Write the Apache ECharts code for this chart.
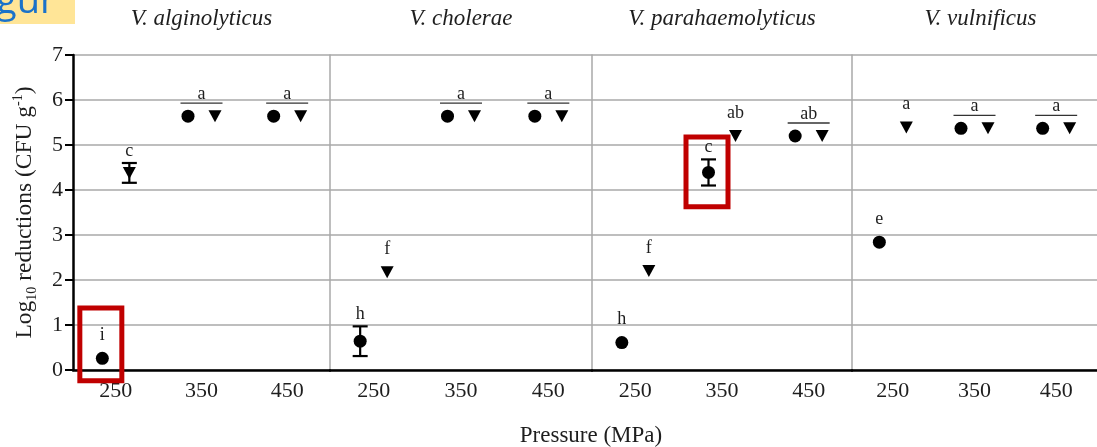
<!DOCTYPE html>
<html>
<head>
<meta charset="utf-8">
<script src="https://cdn.jsdelivr.net/npm/echarts@6/dist/echarts.min.js"></script>
<style>
  html, body { margin: 0; padding: 0; background: #fff; }
  #chart { width: 1097px; height: 447px; }
</style>
</head>
<body>
<div id="chart"></div>
<script>
// data
const species = ["V. alginolyticus", "V. cholerae", "V. parahaemolyticus", "V. vulnificus"];
const pressures = ["250", "350", "450"];
const circleMean = [[0.26, 5.64, 5.64], [0.64, 5.64, 5.64], [0.61, 4.39, 5.2], [2.84, 5.37, 5.37]];
const circleSd = [[0, 0, 0], [0.33, 0, 0], [0, 0.29, 0], [0, 0, 0]];
const triMean = [[4.38, 5.64, 5.64], [2.17, 5.64, 5.64], [2.2, 5.2, 5.2], [5.39, 5.37, 5.37]];
const triSd = [[0.22, 0, 0], [0, 0, 0], [0, 0, 0], [0, 0, 0]];
const circleLetter = [["i", "a", "a"], ["h", "a", "a"], ["h", "c", "ab"], ["e", "a", "a"]];
const triLetter = [["c", "a", "a"], ["f", "a", "a"], ["f", "ab", "ab"], ["a", "a", "a"]];
// 1 = one letter written over both markers with a bar
const sharedLetter = [[0, 1, 1], [0, 1, 1], [0, 0, 1], [0, 1, 1]];
// circles framed in red: [panel, pressure index, low, high]
const boxed = [[0, 0, -0.24, 1.38], [2, 1, 3.63, 5.18]];

const panelLeft = [73, 330, 592, 852];
const panelWidth = [257, 262, 260, 257];
const OFF = 13.5;
const serif = '"Liberation Serif", "DejaVu Serif", serif';
const ink = "#1e1e1e";
const gridGray = "#a8a8a8";
const triPath = "path://M0,0L12,0L6,11Z";

const chart = echarts.init(document.getElementById("chart"));

const grids = [], xAxes = [], yAxes = [], series = [];

species.forEach((name, p) => {
  grids.push({ left: panelLeft[p], width: panelWidth[p], top: 55, height: 315 });
  xAxes.push({
    type: "category",
    gridIndex: p,
    data: pressures,
    boundaryGap: true,
    axisLine: { lineStyle: { color: "#000", width: 2.5 } },
    axisTick: { alignWithLabel: true, length: 7, lineStyle: { color: "#000", width: 2 } },
    axisLabel: { fontFamily: serif, fontSize: 22, color: ink, margin: 10 },
    splitLine: { show: false },
  });
  const y = {
    type: "value",
    gridIndex: p,
    min: 0,
    max: 7,
    interval: 1,
    splitLine: { lineStyle: { color: gridGray, width: 1.5 } },
  };
  if (p === 0) {
    Object.assign(y, {
      axisLine: { show: true, lineStyle: { color: "#000", width: 2.5 } },
      axisTick: { show: true, length: 8, lineStyle: { color: "#000", width: 2 } },
      axisLabel: { fontFamily: serif, fontSize: 22, color: ink, margin: 10 },
      name: "Log{sub|10} reductions (CFU g{sup|-1})",
      nameLocation: "middle",
      nameRotate: 90,
      nameGap: 34,
      nameTextStyle: {
        fontFamily: serif, fontSize: 23.5, color: ink, lineHeight: 28,
        rich: {
          sub: { fontFamily: serif, fontSize: 14, color: ink, lineHeight: 14, verticalAlign: "bottom" },
          sup: { fontFamily: serif, fontSize: 14, color: ink, lineHeight: 14, verticalAlign: "top" },
        },
      },
    });
  } else {
    Object.assign(y, {
      axisLine: { show: true, lineStyle: { color: gridGray, width: 1.5 } },
      axisTick: { show: false },
      axisLabel: { show: false },
    });
  }
  yAxes.push(y);

  series.push({
    type: "scatter", xAxisIndex: p, yAxisIndex: p, z: 5,
    data: circleMean[p], symbol: "circle", symbolSize: 13, symbolOffset: [-OFF, 0],
    itemStyle: { color: "#000", opacity: 1 }, silent: true,
  });
  series.push({
    type: "scatter", xAxisIndex: p, yAxisIndex: p, z: 5,
    data: triMean[p], symbol: triPath, symbolSize: [13, 12], symbolOffset: [OFF, 0],
    itemStyle: { color: "#000", opacity: 1 }, silent: true,
  });

  // error bars
  const bars = [];
  pressures.forEach((_, j) => {
    if (circleSd[p][j] > 0) bars.push([j, circleMean[p][j], circleSd[p][j], -1]);
    if (triSd[p][j] > 0) bars.push([j, triMean[p][j], triSd[p][j], 1]);
  });
  series.push({
    type: "custom", xAxisIndex: p, yAxisIndex: p, z: 4, silent: true,
    data: bars,
    renderItem: function (params, api) {
      const j = api.value(0), m = api.value(1), sd = api.value(2), side = api.value(3);
      const top = api.coord([j, m + sd]);
      const bot = api.coord([j, m - sd]);
      const x = top[0] + side * OFF;
      const st = { stroke: "#000", lineWidth: 2.2 };
      return {
        type: "group",
        children: [
          { type: "line", shape: { x1: x, y1: top[1], x2: x, y2: bot[1] }, style: st },
          { type: "line", shape: { x1: x - 7.5, y1: top[1], x2: x + 7.5, y2: top[1] }, style: st },
          { type: "line", shape: { x1: x - 7.5, y1: bot[1], x2: x + 7.5, y2: bot[1] }, style: st },
        ],
      };
    },
  });

  // significance letters
  const labels = [];
  pressures.forEach((_, j) => {
    if (sharedLetter[p][j]) {
      labels.push({ cat: j, value: Math.max(circleMean[p][j], triMean[p][j]), text: circleLetter[p][j], dx: 0, gap: 22, shared: true });
    } else {
      const cs = circleSd[p][j], ts = triSd[p][j];
      labels.push({ cat: j, value: circleMean[p][j] + cs, text: circleLetter[p][j], dx: -OFF, gap: cs > 0 ? 12 : 23 });
      labels.push({ cat: j, value: triMean[p][j] + ts, text: triLetter[p][j], dx: OFF, gap: ts > 0 ? 12 : 23 });
    }
  });
  series.push({
    type: "custom", xAxisIndex: p, yAxisIndex: p, z: 6, silent: true,
    data: labels.map((l) => [l.cat, l.value]),
    renderItem: function (params, api) {
      const l = labels[params.dataIndex];
      const pt = api.coord([api.value(0), api.value(1)]);
      const x = pt[0] + l.dx;
      const children = [{
        type: "text",
        style: {
          text: l.text, x: x, y: pt[1] - l.gap,
          font: "18px " + serif, fill: ink,
          align: "center", verticalAlign: "middle",
          textAlign: "center", textVerticalAlign: "middle",
        },
      }];
      if (l.shared) {
        children.push({
          type: "line",
          shape: { x1: x - 21, y1: pt[1] - 13, x2: x + 21, y2: pt[1] - 13 },
          style: { stroke: "#333", lineWidth: 1.3 },
        });
      }
      return { type: "group", children: children };
    },
  });

  // red frames
  const frames = boxed.filter((b) => b[0] === p).map((b) => [b[1], b[2], b[3]]);
  if (frames.length) {
    series.push({
      type: "custom", xAxisIndex: p, yAxisIndex: p, z: 10, silent: true, clip: false,
      data: frames,
      renderItem: function (params, api) {
        const hi = api.coord([api.value(0), api.value(2)]);
        const lo = api.coord([api.value(0), api.value(1)]);
        const cx = hi[0] - OFF - 1.5;
        return {
          type: "rect",
          shape: { x: cx - 21, y: hi[1], width: 42, height: lo[1] - hi[1] },
          style: { fill: "none", stroke: "#c00000", lineWidth: 5 },
        };
      },
    });
  }
});

const titles = species.map((s, p) => ({
  text: s,
  left: panelLeft[p] + panelWidth[p] / 2,
  top: 7,
  padding: 0,
  textAlign: "center",
  textStyle: { fontFamily: serif, fontStyle: "italic", fontWeight: "normal", fontSize: 23, color: ink },
}));
titles.push({
  text: "Pressure (MPa)",
  left: 591,
  top: 424,
  padding: 0,
  textAlign: "center",
  textStyle: { fontFamily: serif, fontWeight: "normal", fontSize: 23, color: ink },
});

chart.setOption({
  animation: false,
  backgroundColor: "#fff",
  title: titles,
  grid: grids,
  xAxis: xAxes,
  yAxis: yAxes,
  series: series,
  graphic: [
    { type: "rect", left: 0, top: 0, shape: { width: 75, height: 24 }, style: { fill: "#ffe597" }, z: 1 },
    {
      type: "text", x: -4, y: -17, z: 2,
      style: { text: "gur", font: '38px "Open Sans", sans-serif', fill: "#1b72c9", textVerticalAlign: "alphabetic", verticalAlign: "bottom" },
    },
  ],
});
</script>
</body>
</html>
